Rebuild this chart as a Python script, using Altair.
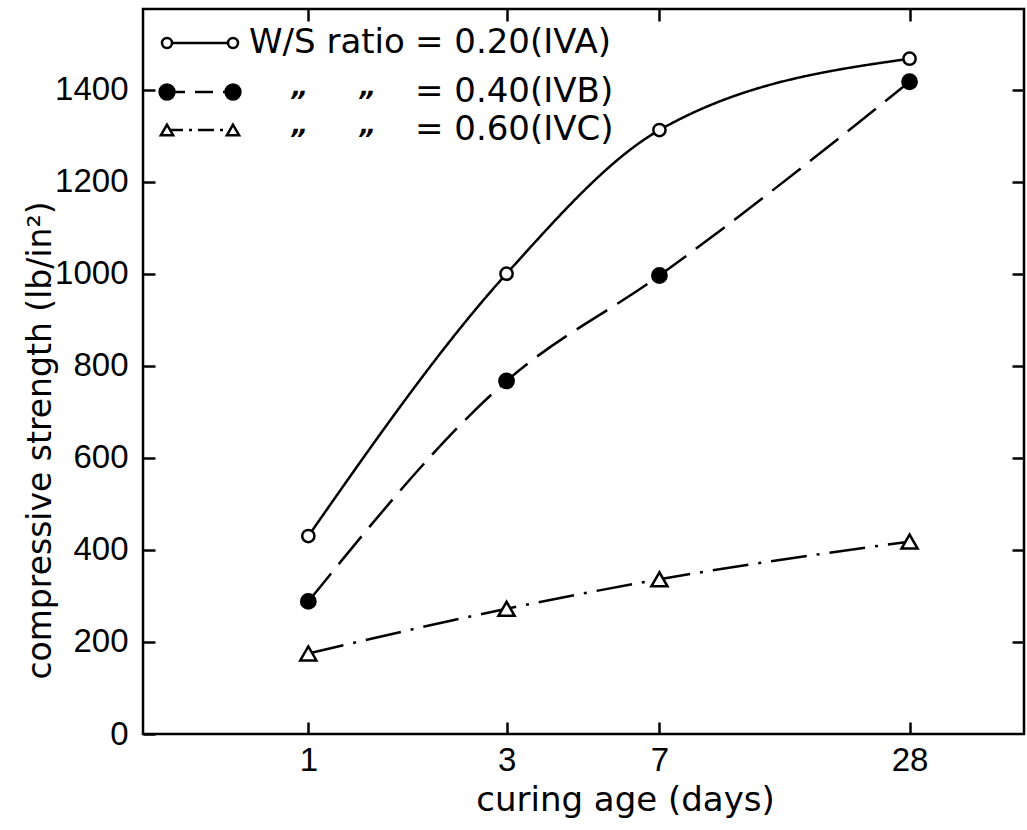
import altair as alt
import pandas as pd

# ---- data ----
days = [1, 3, 7, 28]
iva = [430, 1000, 1312, 1467]
ivb = [288, 767, 996, 1417]
ivc = [175, 272, 336, 418]
series_names = ["IVA", "IVB", "IVC"]
y_ticks = [0, 200, 400, 600, 800, 1000, 1200, 1400]
legend_first = ["W/S ratio", "\u201e", "\u201e"]
legend_value = ["= 0.20(IVA)", "= 0.40(IVB)", "= 0.60(IVC)"]

df = pd.DataFrame({
    "day": days * 3,
    "strength": iva + ivb + ivc,
    "series": ["IVA"] * 4 + ["IVB"] * 4 + ["IVC"] * 4,
})
one = pd.DataFrame({"k": [0]})

W, H = 881, 725
LFONT = "Liberation Sans"
TFONT = "DejaVu Sans"

xscale = alt.Scale(type="log", domain=[0.4, 52.8], nice=False)
yscale = alt.Scale(domain=[0, 1575], nice=False, zero=False)

dash_scale = alt.Scale(domain=series_names, range=[[1, 0], [36, 12], [36, 10, 3, 10]])
shape_scale = alt.Scale(domain=series_names, range=["circle", "circle", "triangle-up"])
fill_scale = alt.Scale(domain=series_names, range=["white", "black", "white"])
size_scale = alt.Scale(domain=series_names, range=[150, 260, 210])

x_main = alt.X("day:Q", scale=xscale, axis=alt.Axis(
    orient="bottom", values=days, format="d", tickSize=12, offset=-12,
    domain=False, grid=False, labelPadding=10, labelFont=LFONT, labelFontSize=33,
    labelColor="black", tickColor="black", tickWidth=2.5,
    title="curing age (days)", titleFont=TFONT, titleFontSize=34,
    titleFontWeight="normal", titleColor="black", titleX=482, titleY=78,
    titleBaseline="middle"))
y_main = alt.Y("strength:Q", scale=yscale, axis=alt.Axis(
    orient="left", values=y_ticks, format="d", tickSize=12, offset=-12, domain=False,
    grid=False, labelPadding=15, labelFont=LFONT, labelFontSize=33,
    labelColor="black", tickColor="black", tickWidth=2.5,
    title="compressive  strength (lb/in\u00b2)", titleFont=TFONT, titleFontSize=33,
    titleFontWeight="normal", titleColor="black", titleX=-115, titleY=431,
    titleAngle=-90, titleBaseline="middle", titleAlign="center"))

lines = alt.Chart(df).mark_line(strokeWidth=2.5, color="black", interpolate="monotone").encode(
    x=x_main, y=y_main,
    strokeDash=alt.StrokeDash("series:N", scale=dash_scale, legend=None),
    detail="series:N",
)

# hidden layer carrying the inward ticks on top and right
frame_ticks = alt.Chart(df).mark_point(opacity=0).encode(
    x=alt.X("day:Q", scale=xscale, axis=alt.Axis(
        orient="top", values=days, tickSize=12, offset=-12, domain=False, grid=False,
        labels=False, title=None, tickColor="black", tickWidth=2.5)),
    y=alt.Y("strength:Q", scale=yscale, axis=alt.Axis(
        orient="right", values=y_ticks[1:], tickSize=12, offset=-12, domain=False,
        grid=False, labels=False, title=None, tickColor="black", tickWidth=2.5)),
)

points = alt.Chart(df).mark_point(filled=True, stroke="black", strokeWidth=2.5, opacity=1).encode(
    x=alt.X("day:Q", scale=xscale, axis=None),
    y=alt.Y("strength:Q", scale=yscale, axis=None),
    shape=alt.Shape("series:N", scale=shape_scale, legend=None),
    fill=alt.Fill("series:N", scale=fill_scale, legend=None),
    size=alt.Size("series:N", scale=size_scale, legend=None),
)

# ---- hand-made legend in the upper-left corner ----
row_y = [34, 83, 121]
sym_x0, sym_x1 = 24, 90
legend_layers = []
dashes = [[1, 0], [18, 10], [16, 6, 3, 6]]
shapes = ["circle", "circle", "triangle-up"]
fills = ["white", "black", "white"]
sizes = [100, 220, 150]
for i in range(3):
    legend_layers.append(alt.Chart(one).mark_rule(
        color="black", strokeWidth=2.5, strokeDash=dashes[i]).encode(
        x=alt.value(sym_x0), x2=alt.value(sym_x1), y=alt.value(row_y[i])))
    for sx in (sym_x0, sym_x1):
        legend_layers.append(alt.Chart(one).mark_point(
            shape=shapes[i], filled=True, fill=fills[i], stroke="black",
            strokeWidth=2.5, size=sizes[i], opacity=1).encode(
            x=alt.value(sx), y=alt.value(row_y[i])))
    legend_layers.append(alt.Chart(one).mark_text(
        text=legend_value[i], align="left", baseline="middle", font=TFONT,
        fontSize=34, color="black").encode(x=alt.value(272), y=alt.value(row_y[i])))
legend_layers.append(alt.Chart(one).mark_text(
    text=legend_first[0], align="left", baseline="middle", font=TFONT,
    fontSize=34, color="black").encode(x=alt.value(106), y=alt.value(row_y[0])))
for i in (1, 2):
    for dx in (157, 225):
        legend_layers.append(alt.Chart(one).mark_text(
            text=legend_first[i], align="center", baseline="middle", font=TFONT,
            fontSize=26, fontStyle="italic", fontWeight="bold", color="black").encode(
            x=alt.value(dx), y=alt.value(row_y[i] - 4)))

chart = alt.layer(lines, frame_ticks, points, *legend_layers).resolve_axis(
    x="independent", y="independent"
).properties(
    width=W, height=H,
    autosize=alt.AutoSizeParams(type="none"),
    padding={"left": 143, "top": 9, "right": 3, "bottom": 96},
    background="white",
).configure_view(stroke="black", strokeWidth=2.5)

chart.save("out.html", embed_options={"renderer": "svg", "actions": False})
